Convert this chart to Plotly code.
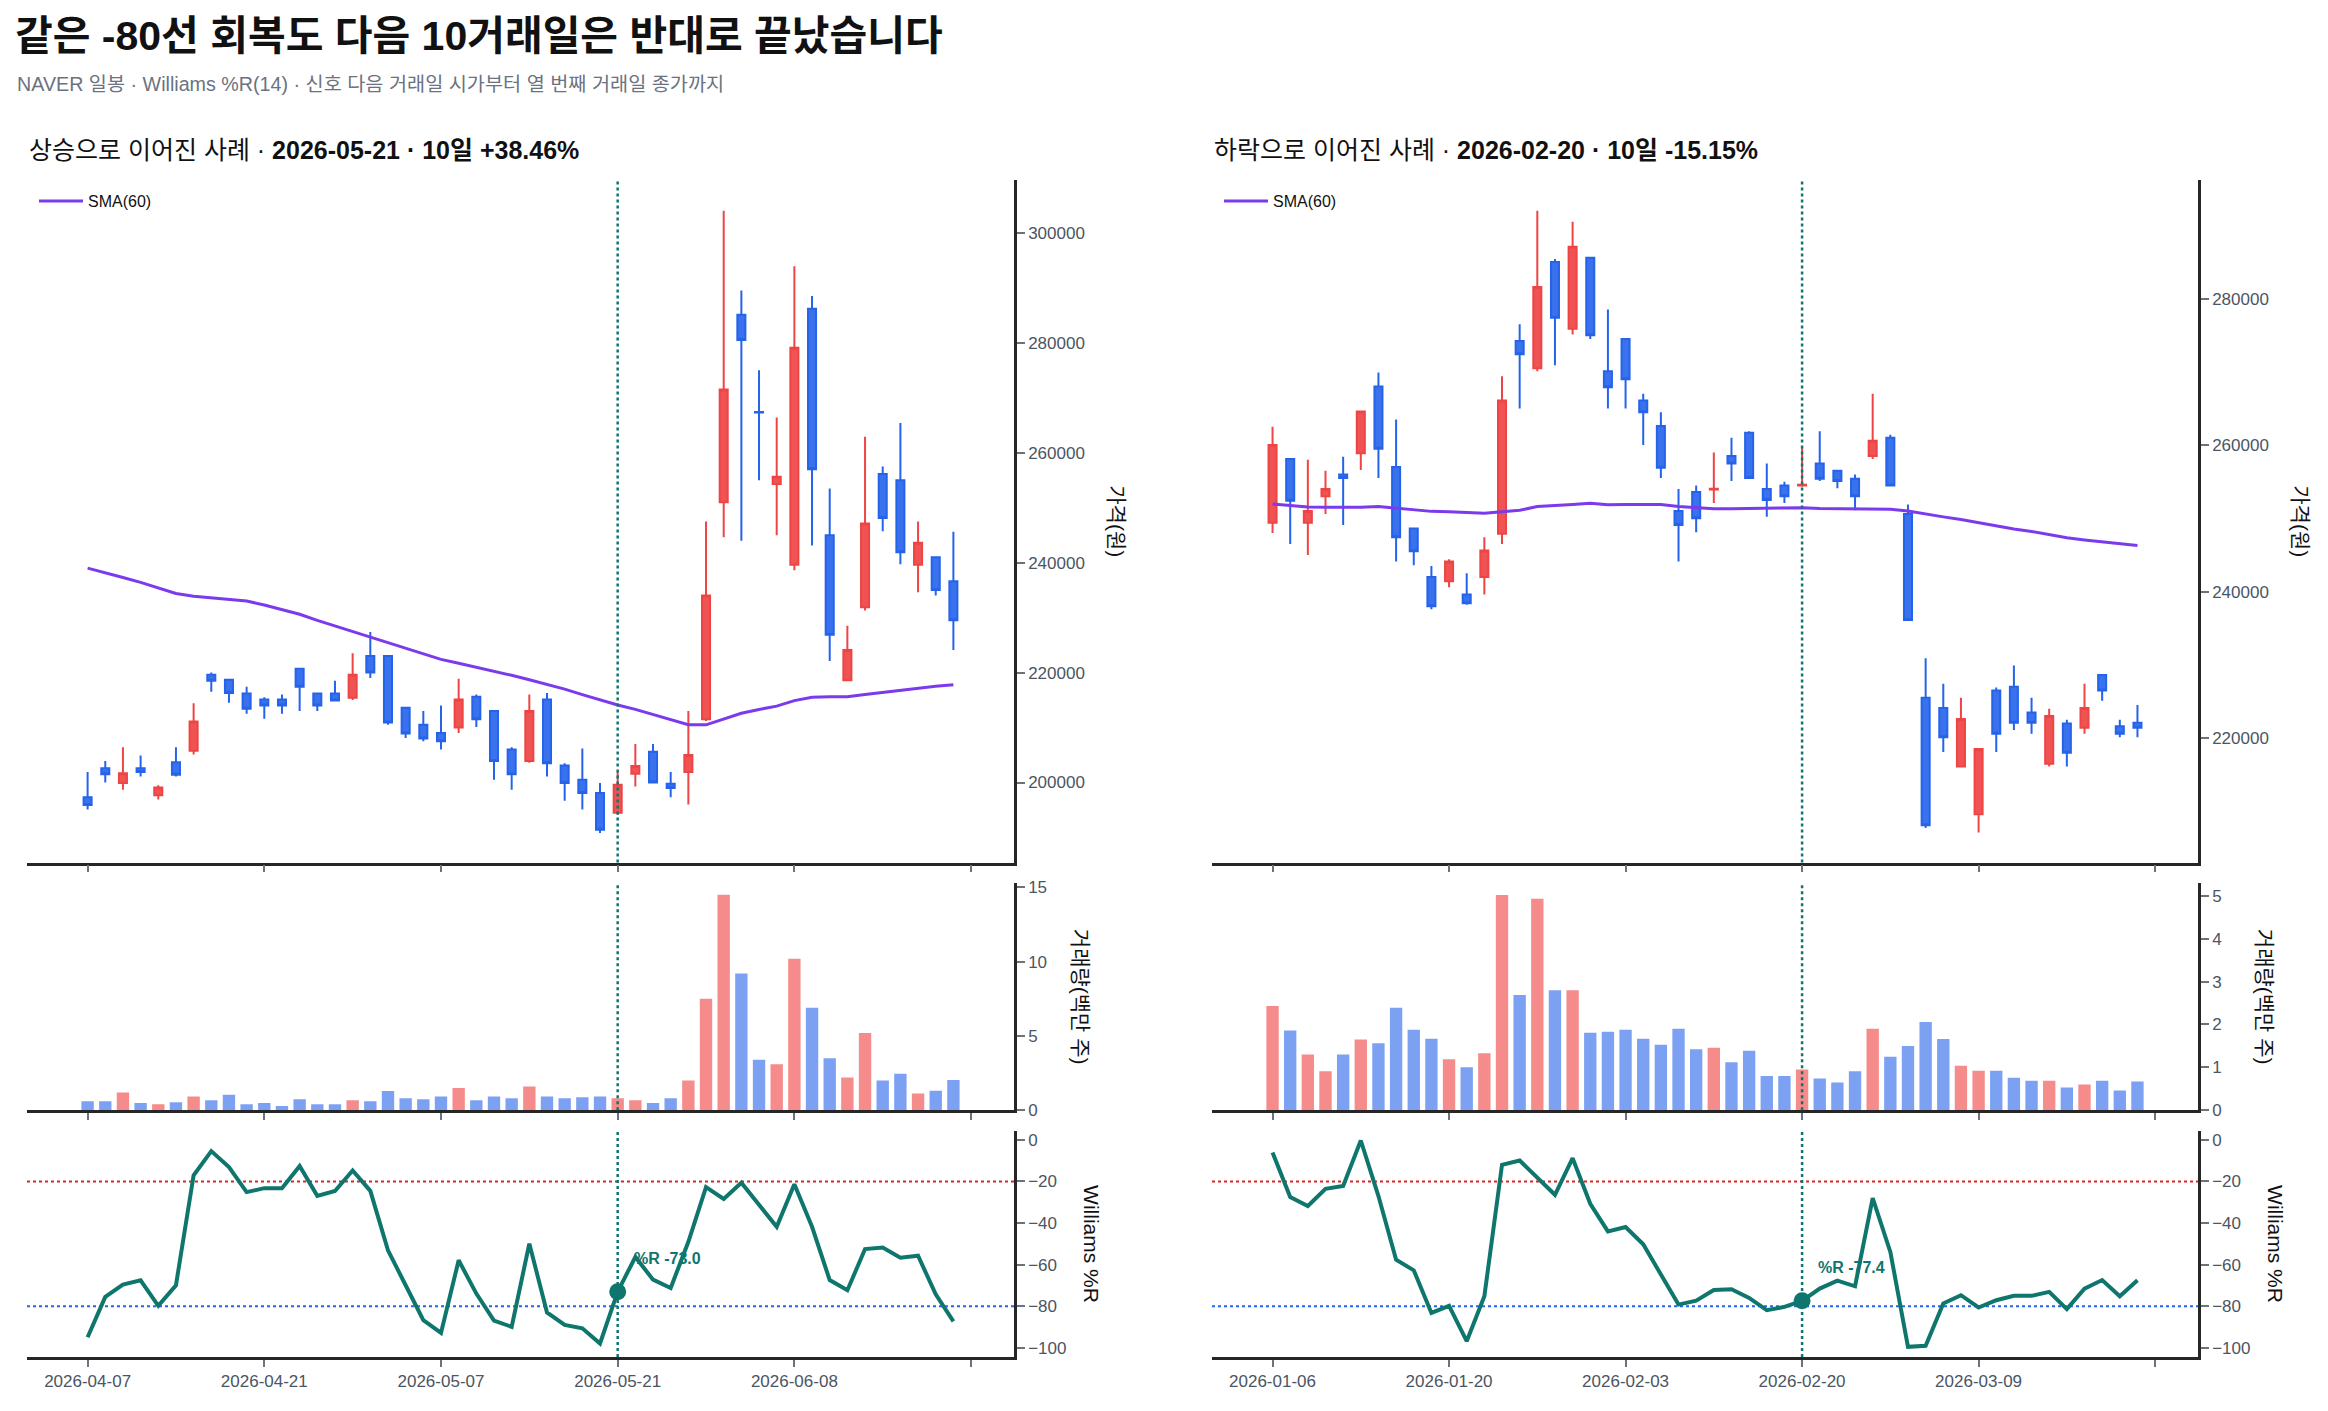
import plotly.graph_objects as go
from plotly.subplots import make_subplots

FONT = "Liberation Sans, Noto Sans CJK KR, sans-serif"

# ---------------- data: 상승 사례 (left) ----------------
up_open = [197300, 202600, 199900, 202600, 197700, 203700, 205800, 219600, 218700, 216200,
           215100, 215100, 220700, 216200, 216200, 215400, 223000, 223000, 213600, 210500,
           209000, 210000, 215600, 213000, 206000, 203900, 215100, 203100, 200500, 198100,
           194500, 201600, 205600, 199800, 201900, 211500, 251000, 285100, 267400, 254300,
           239600, 286200, 245000, 218600, 231900, 256100, 255000, 239600, 241000, 236600]
up_high = [201900, 203900, 206400, 204900, 199500, 206400, 214400, 220000, 218900, 217400,
           215500, 216000, 220900, 216300, 218500, 223500, 227400, 223000, 213600, 213000,
           214000, 218900, 216000, 213000, 206400, 216000, 216300, 203500, 206200, 199900,
           202000, 207000, 207000, 201900, 213000, 247500, 304000, 289500, 275000, 266400,
           293900, 288500, 253500, 228500, 262900, 257500, 265400, 247500, 241000, 245600]
up_low = [195100, 200000, 198700, 201100, 196900, 201100, 205100, 216500, 214500, 212500,
          211600, 212500, 213000, 213000, 214900, 215000, 219000, 210500, 208100, 207500,
          206000, 209000, 210100, 200500, 198700, 203600, 201100, 196700, 195100, 190800,
          194100, 199300, 199900, 197300, 196000, 211200, 244600, 244000, 255000, 245000,
          238600, 243100, 222100, 218600, 231300, 245700, 239700, 234600, 234000, 224100]
up_close = [195900, 201500, 201700, 201900, 199100, 201400, 211100, 218500, 216300, 213400,
            214000, 214000, 217400, 214000, 214900, 219600, 220000, 210900, 208900, 208000,
            207500, 215100, 211500, 203900, 201500, 213000, 203500, 199900, 198100, 191400,
            199600, 203000, 200000, 199000, 205000, 234000, 271500, 280500, 267300, 255600,
            279100, 257000, 226900, 224100, 247100, 248100, 241900, 243600, 235000, 229500]
up_sma = [239000, 238200, 237300, 236400, 235400, 234400, 233900, 233600, 233300, 233000,
          232300, 231500, 230600, 229500, 228500, 227500, 226500, 225500, 224500, 223500,
          222400, 221700, 221000, 220300, 219500, 218700, 217900, 217000, 216000, 215000,
          214100, 213300, 212400, 211500, 210500, 210500, 211600, 212600, 213300, 213900,
          214900, 215500, 215600, 215600, 216000, 216400, 216800, 217100, 217500, 217800]
up_volume = [0.61, 0.61, 1.2, 0.48, 0.41, 0.54, 0.93, 0.68, 1.05, 0.41,
             0.48, 0.29, 0.74, 0.41, 0.41, 0.68, 0.61, 1.3, 0.8, 0.74,
             0.93, 1.5, 0.68, 0.93, 0.8, 1.6, 0.93, 0.8, 0.87, 0.93,
             0.8, 0.68, 0.48, 0.8, 2.0, 7.5, 14.5, 9.2, 3.4, 3.1,
             10.2, 6.9, 3.5, 2.2, 5.2, 2.0, 2.45, 1.12, 1.31, 2.04]
up_wr = [-94.9, -75.5, -69.6, -67.5, -79.8, -69.9, -17.0, -5.4, -13.1, -25.1,
         -23.2, -23.2, -12.6, -26.9, -24.6, -14.7, -24.5, -53.1, -69.9, -86.7,
         -92.8, -57.9, -73.9, -86.9, -89.9, -49.9, -83.0, -89.0, -90.6, -97.9,
         -73.0, -56.3, -67.2, -71.2, -49.0, -22.7, -28.4, -20.6, -31.2, -41.8,
         -21.3, -41.8, -67.4, -72.3, -52.5, -51.8, -56.7, -55.7, -74.3, -87.3]
up_ticktext = ["2026-04-07", "2026-04-21", "2026-05-07", "2026-05-21", "2026-06-08", ""]
up_signal_idx = 30
up_signal_wr = -73.0
up_title = "상승으로 이어진 사례 · <b>2026-05-21 · 10일 +38.46%</b>"

# ---------------- data: 하락 사례 (right) ----------------
dn_open = [249400, 258100, 249400, 253000, 256000, 258900, 268000, 257000, 248600, 242000,
           241400, 239600, 242000, 247900, 274200, 270500, 285000, 275900, 285600, 270100,
           274500, 266100, 262600, 251000, 253600, 253950, 258500, 261700, 254000, 254500,
           254500, 257500, 256500, 255400, 258500, 261000, 250600, 225500, 224100, 216100,
           209600, 226500, 227000, 223500, 216500, 222000, 221400, 228600, 221600, 222100]
dn_high = [262500, 258100, 258000, 256500, 258400, 264600, 269900, 263500, 248600, 243500,
           244400, 242500, 247400, 269400, 276500, 292000, 285400, 290500, 285600, 278500,
           274500, 267000, 264500, 254000, 254500, 259000, 261000, 261900, 257500, 255000,
           259800, 261900, 256500, 256000, 267000, 261400, 251900, 230900, 227400, 225500,
           218500, 226900, 229900, 225500, 224000, 222500, 227400, 228600, 222500, 224500]
dn_low = [248000, 246500, 245000, 250600, 249100, 256600, 255500, 244100, 243600, 237600,
          240600, 238200, 239600, 246500, 265000, 270100, 270900, 275100, 274500, 265000,
          265000, 260000, 255500, 244100, 248100, 252100, 255100, 255500, 250200, 252100,
          254300, 255100, 254100, 251100, 258100, 254500, 236100, 207700, 218100, 216100,
          207100, 218100, 221100, 220600, 216100, 216100, 220600, 225100, 220100, 220100]
dn_close = [260000, 252400, 251000, 254000, 255500, 264600, 259500, 247400, 245500, 238000,
            244100, 238400, 245600, 266100, 272400, 281600, 277400, 287100, 275000, 267900,
            269000, 264500, 256900, 249100, 250000, 254050, 257500, 255500, 252500, 253000,
            254600, 255400, 255100, 253000, 260600, 254500, 236100, 208100, 220100, 222600,
            218500, 220600, 222100, 222100, 223000, 218000, 224100, 226500, 220600, 221400]
dn_sma = [251950, 251750, 251550, 251500, 251450, 251500, 251600, 251400, 251150, 250950,
          250900, 250800, 250700, 250900, 251100, 251600, 251800, 251900, 252050, 251850,
          251900, 251950, 251900, 251600, 251450, 251300, 251300, 251350, 251350, 251450,
          251450, 251350, 251300, 251250, 251200, 251250, 251000, 250550, 250200, 249850,
          249400, 248900, 248550, 248200, 247750, 247350, 247050, 246800, 246550, 246300]
dn_volume = [2.43, 1.86, 1.30, 0.91, 1.30, 1.65, 1.56, 2.39, 1.88, 1.67,
             1.19, 1.00, 1.33, 5.02, 2.69, 4.93, 2.80, 2.80, 1.81, 1.83,
             1.88, 1.67, 1.53, 1.90, 1.42, 1.46, 1.12, 1.39, 0.80, 0.80,
             0.95, 0.74, 0.65, 0.91, 1.90, 1.25, 1.50, 2.06, 1.66, 1.04,
             0.92, 0.92, 0.76, 0.69, 0.69, 0.53, 0.60, 0.69, 0.46, 0.67]
dn_wr = [-6.1, -27.5, -31.8, -23.5, -22.2, -0.3, -27.0, -57.6, -62.7, -83.2,
         -79.8, -96.8, -75.2, -12.0, -9.9, -17.9, -26.4, -8.8, -30.7, -44.0,
         -41.9, -50.2, -64.3, -79.2, -77.3, -72.2, -71.8, -76.0, -81.9, -80.3,
         -77.4, -71.5, -67.7, -70.4, -28.0, -53.9, -99.5, -99.0, -78.7, -74.7,
         -80.6, -77.1, -75.0, -75.0, -73.1, -81.4, -71.5, -67.4, -75.2, -67.5]
dn_ticktext = ["2026-01-06", "2026-01-20", "2026-02-03", "2026-02-20", "2026-03-09", ""]
dn_signal_idx = 30
dn_signal_wr = -77.4
dn_title = "하락으로 이어진 사례 · <b>2026-02-20 · 10일 -15.15%</b>"

tickvals = [0, 10, 20, 30, 40, 50]
overbought = -20
oversold = -80

# ---------------- styling ----------------
RED = "#ef4444"
BLUE = "#2563eb"
RED_VOL = "rgba(239,68,68,0.62)"
BLUE_VOL = "rgba(37,99,235,0.60)"
TEAL = "#0f766e"
PURPLE = "#7c3aed"
AXIS = "#262626"
TICK = "#4b5563"

OFF = 8  # page body margin
W, H = 2328 - 2 * OFF, 1411 - 2 * OFF
L, T = 27 - OFF, 180 - OFF
R = W - (2198 - OFF)
B = H - (1363 - OFF)
PW, PH = W - L - R, H - T - B

def px_x(a):
    return (a - OFF - L) / PW

def px_y(a):
    return (H - B - (a - OFF)) / PH

col_dom = [[0.0, px_x(1014)], [px_x(1212), 1.0]]
row_dom = [[px_y(866), 1.0], [px_y(1115), px_y(887)], [0.0, px_y(1136)]]

fig = make_subplots(rows=3, cols=2)

cases = [
    (up_open, up_high, up_low, up_close, up_sma, up_volume, up_wr, up_ticktext, up_signal_idx, up_signal_wr, up_title,
     [185450, 309600], [0, 15.27], [0, 5, 10, 15], list(range(200000, 300001, 20000))),
    (dn_open, dn_high, dn_low, dn_close, dn_sma, dn_volume, dn_wr, dn_ticktext, dn_signal_idx, dn_signal_wr, dn_title,
     [203000, 296200], [0, 5.29], [0, 1, 2, 3, 4, 5], list(range(220000, 280001, 20000))),
]

annotations = []
shapes = []

for c, (o, h, lo, cl, sma, vol, wr, ttext, sig, sigwr, ttl, prange, vrange, vticks, pticks) in enumerate(cases):
    col = c + 1
    idx = list(range(len(o)))
    fig.add_trace(go.Candlestick(
        x=idx, open=o, high=h, low=lo, close=cl,
        increasing=dict(line=dict(color=RED, width=2), fillcolor="rgba(239,68,68,0.92)"),
        decreasing=dict(line=dict(color=BLUE, width=2), fillcolor="rgba(37,99,235,0.90)"),
        showlegend=False, hoverinfo="skip", whiskerwidth=0,
    ), row=1, col=col)
    fig.add_trace(go.Scatter(
        x=idx, y=sma, mode="lines", name="SMA(60)",
        line=dict(color=PURPLE, width=3), legend="legend" if c == 0 else "legend2",
        hoverinfo="skip",
    ), row=1, col=col)
    vcolors = [RED_VOL if cl[i] >= o[i] else BLUE_VOL for i in idx]
    fig.add_trace(go.Bar(x=idx, y=vol, marker=dict(color=vcolors, line=dict(width=0)),
                         showlegend=False, hoverinfo="skip"), row=2, col=col)
    fig.add_trace(go.Scatter(x=idx, y=wr, mode="lines", line=dict(color=TEAL, width=4),
                             showlegend=False, hoverinfo="skip"), row=3, col=col)
    fig.add_trace(go.Scatter(x=[sig], y=[sigwr], mode="markers",
                             marker=dict(color=TEAL, size=17),
                             showlegend=False, hoverinfo="skip"), row=3, col=col)

    for r in range(3):
        n = r * 2 + col
        xs = "" if n == 1 else str(n)
        fig.layout["xaxis" + xs].update(
            domain=col_dom[c], range=[-3.43, 52.43], tickvals=tickvals,
            ticktext=ttext, showticklabels=(r == 2),
            showline=True, linecolor=AXIS, linewidth=2.5, ticks="outside", ticklen=7,
            tickwidth=2, tickcolor="#6b7280", showgrid=False, zeroline=False,
            tickfont=dict(size=17, color=TICK, family=FONT), rangeslider=dict(visible=False),
        )
        yax = dict(domain=row_dom[r], side="right", showline=True, linecolor=AXIS, linewidth=2.5,
                   ticks="outside", ticklen=8, tickwidth=2, tickcolor="#6b7280",
                   showgrid=False, zeroline=False, tickfont=dict(size=17, color=TICK, family=FONT))
        if r == 0:
            yax.update(range=prange, tickvals=pticks, tickformat="d")
        elif r == 1:
            yax.update(range=vrange, tickvals=vticks)
        else:
            yax.update(range=[-104.4, 4.2], tickvals=[0, -20, -40, -60, -80, -100])
        fig.layout["yaxis" + xs].update(**yax)

        # signal vertical dotted line
        shapes.append(dict(type="line", xref="x" + xs, yref="y" + xs + " domain",
                           x0=sig, x1=sig, y0=0, y1=1, layer="above",
                           line=dict(color=TEAL, width=2.5, dash="dot")))

    n3 = "5" if col == 1 else "6"
    for lvl, colr in [(overbought, "#dc2626"), (oversold, BLUE)]:
        shapes.append(dict(type="line", xref="x" + n3 + " domain", yref="y" + n3,
                           x0=0, x1=1, y0=lvl, y1=lvl, layer="below",
                           line=dict(color=colr, width=2, dash="dot")))
    annotations.append(dict(x=sig, y=sigwr, xref="x" + n3, yref="y" + n3,
                            text="<b>%R " + f"{sigwr:.1f}" + "</b>", showarrow=False,
                            xanchor="left", yanchor="middle", xshift=14, yshift=33,
                            font=dict(size=16, color=TEAL, family=FONT)))

    # subplot title
    annotations.append(dict(x=col_dom[c][0], y=px_y(150), xref="paper", yref="paper",
                            text=ttl, showarrow=False, xanchor="left", yanchor="middle",
                            font=dict(size=25, color="#111111", family=FONT)))
    # axis titles (rotated, reading top to bottom)
    for r, (txt, shift) in enumerate([("가격(원)", 103), ("거래량(백만 주)", 66), ("Williams %R", 78)]):
        n = r * 2 + col
        xs = "" if n == 1 else str(n)
        annotations.append(dict(x=1, y=0.5, xref="x" + xs + " domain", yref="y" + xs + " domain",
                                text=txt, showarrow=False, textangle=90, xanchor="center",
                                yanchor="middle", xshift=shift,
                                font=dict(size=21, color="#111111", family=FONT)))

# subtitle
annotations.append(dict(x=px_x(15), y=px_y(84), xref="paper", yref="paper",
                        text="NAVER 일봉 · Williams %R(14) · 신호 다음 거래일 시가부터 열 번째 거래일 종가까지",
                        showarrow=False, xanchor="left", yanchor="middle",
                        font=dict(size=19.7, color="#6b7280", family=FONT)))

fig.update_layout(
    width=W, height=H,
    margin=dict(l=L, r=R, t=T, b=B),
    paper_bgcolor="white", plot_bgcolor="white",
    font=dict(family=FONT, color="#111111"),
    title=dict(text="<b>같은 -80선 회복도 다음 10거래일은 반대로 끝났습니다</b>",
               x=(15 - OFF) / W, xanchor="left", y=1 - (36 - OFF) / H, yanchor="middle",
               font=dict(size=41, color="#111111", family=FONT)),
    bargap=0.3,
    boxgap=0.35,
    legend=dict(x=px_x(34), y=px_y(184), xanchor="left", yanchor="top", itemwidth=44,
                bgcolor="rgba(0,0,0,0)", font=dict(size=16, color="#111111", family=FONT)),
    legend2=dict(x=px_x(1219), y=px_y(184), xanchor="left", yanchor="top", itemwidth=44,
                 bgcolor="rgba(0,0,0,0)", font=dict(size=16, color="#111111", family=FONT)),
    annotations=annotations,
    shapes=shapes,
    hovermode=False,
)

fig.write_html("out.html")
